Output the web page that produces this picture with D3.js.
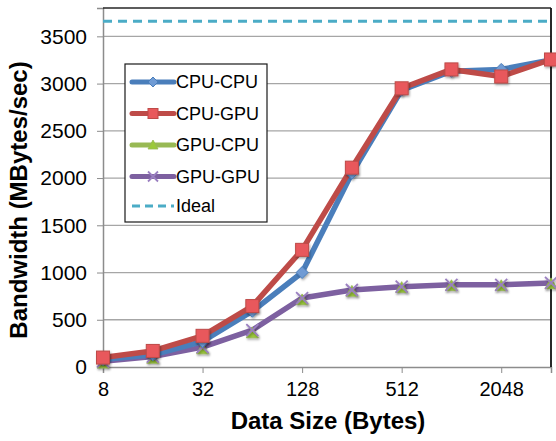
<!DOCTYPE html>
<html lang="en">
<head>
<meta charset="utf-8">
<title>Bandwidth vs Data Size</title>
<script src="https://cdn.jsdelivr.net/npm/d3@7"></script>
<style>
  body { margin: 0; background: #fff; }
  text { font-family: "Liberation Sans", Arial, sans-serif; }
</style>
</head>
<body>
<script>
// data
var sizes = [8, 16, 32, 64, 128, 256, 512, 1024, 2048, 4096];
var cpuCpu = [80, 130, 270, 590, 1000, 2050, 2930, 3130, 3150, 3250];
var cpuGpu = [100, 170, 330, 645, 1240, 2110, 2950, 3150, 3075, 3255];
var gpuCpu = [40, 90, 190, 360, 710, 800, 840, 860, 860, 880];
var gpuGpu = [60, 110, 210, 390, 730, 815, 850, 870, 870, 890];
var ideal = 3660;
var xTicks = [8, 32, 128, 512, 2048];
var yTicks = [0, 500, 1000, 1500, 2000, 2500, 3000, 3500];

var W = 556, H = 441;
var margin = {top: 8, right: 5, bottom: 74, left: 103};
var font = "'Liberation Sans', Arial, sans-serif";

var svg = d3.select("body").append("svg")
  .attr("width", W).attr("height", H);

var defs = svg.append("defs");
defs.append("filter").attr("id", "shadow")
  .attr("x", "-50%").attr("y", "-50%").attr("width", "200%").attr("height", "200%")
  .append("feDropShadow")
  .attr("dx", 1).attr("dy", 1.5).attr("stdDeviation", 1)
  .attr("flood-color", "#000").attr("flood-opacity", 0.35);

var x = d3.scaleLog().base(2).domain([8, 4096]).range([margin.left, W - margin.right]);
var y = d3.scaleLinear().domain([0, 3800]).range([H - margin.bottom, margin.top]);

// gridlines
svg.append("g").selectAll("line").data(yTicks.slice(1)).enter().append("line")
  .attr("x1", margin.left).attr("x2", x(4096))
  .attr("y1", d => y(d)).attr("y2", d => y(d))
  .attr("stroke", "#a6a6a6").attr("stroke-width", 1.3);

// y axis
var yAxis = svg.append("g").attr("transform", "translate(" + margin.left + ",0)")
  .call(d3.axisLeft(y).tickValues(yTicks).tickSize(6).tickPadding(10).tickFormat(d3.format("d")));
yAxis.select(".domain").attr("stroke", "#8c8c8c").attr("stroke-width", 1.5);
yAxis.selectAll(".tick line").attr("stroke", "#8c8c8c");
yAxis.selectAll("text").attr("font-size", 21).attr("fill", "#000").style("font-family", font);

// x axis
var xAxis = svg.append("g").attr("transform", "translate(0," + y(0) + ")")
  .call(d3.axisBottom(x).tickValues(xTicks).tickSize(6).tickPadding(9).tickFormat(d3.format("d")));
xAxis.select(".domain").attr("stroke", "#8c8c8c").attr("stroke-width", 1.5);
xAxis.selectAll(".tick line").attr("stroke", "#8c8c8c");
xAxis.selectAll("text").attr("font-size", 20).attr("fill", "#000").style("font-family", font);

// frame top/right
svg.append("line").attr("x1", margin.left).attr("x2", x(4096))
  .attr("y1", y(3800)).attr("y2", y(3800)).attr("stroke", "#262626").attr("stroke-width", 1.5);
svg.append("line").attr("x1", x(4096)).attr("x2", x(4096))
  .attr("y1", y(3800)).attr("y2", y(0)).attr("stroke", "#111").attr("stroke-width", 1.8);

// ideal line
svg.append("line").attr("x1", margin.left).attr("x2", x(4096))
  .attr("y1", y(ideal)).attr("y2", y(ideal))
  .attr("stroke", "#4bacc6").attr("stroke-width", 3).attr("stroke-dasharray", "9,6");

var series = [
  {name: "CPU-CPU", values: cpuCpu, color: "#4a7ebb", fill: "#6f9bd4", marker: "diamond"},
  {name: "CPU-GPU", values: cpuGpu, color: "#be4b48", fill: "#e8595c", marker: "square"},
  {name: "GPU-CPU", values: gpuCpu, color: "#98b954", fill: "#9bc93a", marker: "triangle"},
  {name: "GPU-GPU", values: gpuGpu, color: "#7d60a0", fill: "#9a7fc0", marker: "cross"}
];

var line = d3.line().x(d => x(d[0])).y(d => y(d[1]));

function drawMarker(g, type, s, fill, stroke) {
  if (type === "square") {
    g.append("rect").attr("x", -s).attr("y", -s).attr("width", 2 * s).attr("height", 2 * s)
      .attr("fill", fill).attr("stroke", stroke).attr("stroke-width", 1);
  } else if (type === "diamond") {
    g.append("path").attr("d", "M0," + (-s) + "L" + s + ",0L0," + s + "L" + (-s) + ",0Z")
      .attr("fill", fill).attr("stroke", stroke).attr("stroke-width", 1);
  } else if (type === "triangle") {
    g.append("path").attr("d", "M0," + (-s) + "L" + s + "," + (s * 0.8) + "L" + (-s) + "," + (s * 0.8) + "Z")
      .attr("fill", fill).attr("stroke", stroke).attr("stroke-width", 0.8);
  } else {
    g.append("path").attr("d", "M" + (-s) + "," + (-s) + "L" + s + "," + s + "M" + (-s) + "," + s + "L" + s + "," + (-s))
      .attr("stroke", fill).attr("stroke-width", 1.8).attr("fill", "none");
  }
}

// lines: purple first (green sits under it), then blue, then red
[3, 0, 1].forEach(function (i) {
  var s = series[i];
  var pts = sizes.map((v, k) => [v, s.values[k]]);
  svg.append("path").datum(pts).attr("d", line)
    .attr("fill", "none").attr("stroke", s.color).attr("stroke-width", 5.5)
    .attr("stroke-linejoin", "round");
});
// markers
[2, 3, 0, 1].forEach(function (i) {
  var s = series[i];
  var size = s.marker === "square" ? 6.5 : 6;
  sizes.forEach(function (v, k) {
    var g = svg.append("g").attr("transform", "translate(" + x(v) + "," + y(s.values[k]) + ")")
      .attr("filter", "url(#shadow)");
    drawMarker(g, s.marker, size, s.fill, s.color);
  });
});

// legend
var lg = svg.append("g").attr("transform", "translate(125,64)");
lg.append("rect").attr("width", 142).attr("height", 158)
  .attr("fill", "#fff").attr("stroke", "#1a1a1a").attr("stroke-width", 1.2);
series.forEach(function (s, i) {
  var yy = 18 + i * 31.5;
  lg.append("line").attr("x1", 7).attr("x2", 49).attr("y1", yy).attr("y2", yy)
    .attr("stroke", s.color).attr("stroke-width", 5).attr("stroke-linecap", "round");
  var g = lg.append("g").attr("transform", "translate(28," + yy + ")");
  drawMarker(g, s.marker, 5, s.fill, s.color);
  lg.append("text").attr("x", 51).attr("y", yy).attr("dy", "0.36em")
    .attr("font-size", 18).text(s.name);
});
var yi = 18 + 4 * 31;
lg.append("line").attr("x1", 7).attr("x2", 49).attr("y1", yi).attr("y2", yi)
  .attr("stroke", "#4bacc6").attr("stroke-width", 3).attr("stroke-dasharray", "8,5");
lg.append("text").attr("x", 51).attr("y", yi).attr("dy", "0.36em")
  .attr("font-size", 18).text("Ideal");

// axis titles
svg.append("text").attr("x", 328).attr("y", 429)
  .attr("text-anchor", "middle").attr("font-size", 24).attr("font-weight", "bold")
  .text("Data Size (Bytes)");
svg.append("text").attr("transform", "translate(27,200) rotate(-90)")
  .attr("text-anchor", "middle").attr("font-size", 24).attr("font-weight", "bold")
  .text("Bandwidth (MBytes/sec)");
</script>
</body>
</html>
